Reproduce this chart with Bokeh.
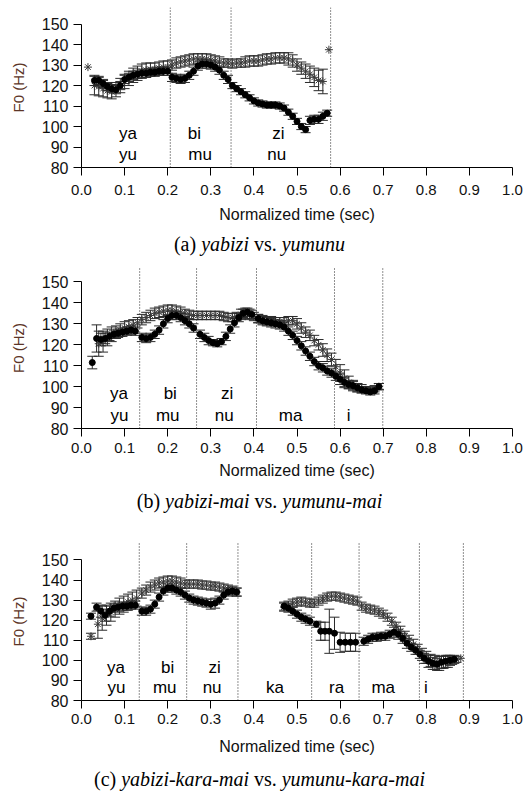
from bokeh.plotting import figure
from bokeh.models import Range1d, FixedTicker, PrintfTickFormatter, ColumnDataSource
from bokeh.layouts import column
from bokeh.embed import file_html
from bokeh.resources import INLINE
from bokeh.core.properties import value

# ---------------- data ----------------
x_ticks = [0.0, 0.1, 0.2, 0.3, 0.4, 0.5, 0.6, 0.7, 0.8, 0.9, 1.0]
y_ticks = [80, 90, 100, 110, 120, 130, 140, 150]
x_title = "Normalized time (sec)"
y_title = "F0 (Hz)"

# panel (a)  yabizi (open) vs yumunu (filled)
a_open_t = [0.015, 0.03, 0.04, 0.05, 0.06, 0.07, 0.08, 0.09, 0.10, 0.11,
            0.12, 0.13, 0.14, 0.15, 0.16, 0.17, 0.18, 0.19, 0.20, 0.21,
            0.22, 0.23, 0.24, 0.25, 0.26, 0.27, 0.28, 0.29, 0.30, 0.31,
            0.32, 0.33, 0.34, 0.35, 0.36, 0.37, 0.38, 0.39, 0.40, 0.41,
            0.42, 0.43, 0.44, 0.45, 0.46, 0.47, 0.48, 0.49, 0.50, 0.51,
            0.52, 0.53, 0.54, 0.55, 0.56, 0.574]
a_open_f0 = [129, 120, 119.5, 118.5, 117.5, 117, 118, 120, 122, 123.5,
             125, 126, 127, 127.5, 128, 128, 128.5, 129, 129, 130,
             131, 131.5, 132, 132.5, 133, 133, 133, 133, 132.5, 132,
             131.5, 131, 131, 130.5, 131, 131, 131.5, 132, 132, 132,
             132.5, 133, 133, 133.5, 133.5, 133.5, 133, 132, 130, 128.5,
             127, 125.5, 124, 122.5, 122, 137.5]
a_open_err = [0, 4.5, 4.5, 4, 3.5, 3.5, 3.5, 3.5, 3.5, 3.5,
              3.5, 3.5, 3.5, 3.5, 3, 3, 3, 3, 3, 2.5,
              2.5, 2.5, 2.5, 2.5, 2.5, 2.5, 2.5, 2.5, 2.5, 2.5,
              2.5, 2, 2, 2, 2, 2, 2.5, 2.5, 2.5, 2.5,
              2.5, 2.5, 2.5, 2.5, 2.5, 2.5, 3, 3, 3, 3,
              3.5, 4, 4.5, 5, 6, 0]
a_fill_t = [0.03, 0.04, 0.05, 0.06, 0.07, 0.08, 0.09, 0.10, 0.11, 0.12,
            0.13, 0.14, 0.15, 0.16, 0.17, 0.18, 0.19, 0.20, 0.21, 0.22,
            0.23, 0.24, 0.25, 0.26, 0.27, 0.28, 0.29, 0.30, 0.31, 0.32,
            0.33, 0.34, 0.35, 0.36, 0.37, 0.38, 0.39, 0.40, 0.41, 0.42,
            0.43, 0.44, 0.45, 0.46, 0.47, 0.48, 0.49, 0.50, 0.51, 0.52,
            0.53, 0.54, 0.55, 0.56, 0.57]
a_fill_f0 = [122.5, 122.5, 121, 119.5, 118.5, 118, 120, 123, 124, 125,
             125.5, 126, 126, 126.5, 126.5, 127, 127, 127, 124, 123.5,
             123, 123.5, 125, 127, 129.5, 130.5, 130.5, 130, 129, 127.5,
             125, 123, 120, 118.5, 117, 115.5, 114, 112.5, 111.5, 111,
             110.5, 110.5, 110.5, 110, 109, 107, 105, 102.5, 100, 98.5,
             103, 103.5, 103.5, 105, 106.5]
a_fill_err = [2.5, 2, 2, 2, 2, 2, 2, 2, 2, 2,
              2, 2, 2, 2, 2, 2, 2, 2, 2, 2,
              2, 2, 2, 2, 2, 2, 2, 2, 2, 2,
              2, 2, 1.5, 1.5, 1.5, 1.5, 1.5, 1.5, 1.5, 1.5,
              1.5, 1.5, 1.5, 1.5, 1.5, 1.5, 1.5, 1.5, 1.5, 1.5,
              2, 2, 2, 2, 1.5]
a_bounds = [0.206, 0.347, 0.578]
a_upper = ["ya", "bi", "zi"]
a_upper_t = [0.108, 0.262, 0.457]
a_lower = ["yu", "mu", "nu"]
a_lower_t = [0.108, 0.275, 0.453]
a_caption = [("(a) ", False), ("yabizi", True), (" vs. ", False), ("yumunu", True)]

# panel (b)  yabizi-mai (open) vs yumunu-mai (filled)
b_open_t = [0.04, 0.05, 0.06, 0.07, 0.08, 0.09, 0.10, 0.11, 0.12, 0.13,
            0.14, 0.15, 0.16, 0.17, 0.18, 0.19, 0.20, 0.21, 0.22, 0.23,
            0.24, 0.25, 0.26, 0.27, 0.28, 0.29, 0.30, 0.31, 0.32, 0.33,
            0.34, 0.35, 0.36, 0.37, 0.38, 0.39, 0.40, 0.41, 0.42, 0.43,
            0.44, 0.45, 0.46, 0.47, 0.48, 0.49, 0.50, 0.51, 0.52, 0.53,
            0.54, 0.55, 0.56, 0.57, 0.58, 0.59, 0.60, 0.61, 0.62, 0.63,
            0.64, 0.65, 0.66, 0.67, 0.68, 0.69]
b_open_f0 = [120.5, 121.5, 123.5, 125, 126, 127, 128, 128.5, 129.5, 130.5,
             132, 133, 134, 135, 135.5, 136, 136.5, 136.5, 136, 135.5,
             135, 134.5, 134, 134, 134, 134, 134, 134, 134, 133.5,
             133, 133, 133.5, 134.5, 135, 134.5, 133.5, 132.5, 132, 131.5,
             131.5, 131, 131, 131, 131.5, 131.5, 130, 128, 126, 124.5,
             122, 120, 117.5, 115, 113, 109.5, 106.5, 104, 102, 100.5,
             99.5, 99, 98.5, 98.5, 99, 100]
b_open_err = [6, 5, 4, 3.5, 3, 3, 3, 3, 2.5, 2.5,
              2.5, 2.5, 2.5, 2.5, 2.5, 2.5, 2.5, 2.5, 2.5, 2.5,
              2, 2, 2, 2, 2, 2, 2, 2, 2, 2,
              2, 2, 2, 2.5, 2.5, 2.5, 2, 2, 2, 2,
              2, 2, 2, 2, 2, 2, 2.5, 2.5, 2.5, 2.5,
              2.5, 2.5, 3, 3, 3, 3.5, 4, 4, 3, 2.5,
              2, 2, 1.5, 1.5, 1.5, 1.5]
b_fill_t = [0.025, 0.035, 0.045, 0.055, 0.065, 0.075, 0.085, 0.095, 0.105, 0.115,
            0.125, 0.14, 0.15, 0.16, 0.17, 0.18, 0.19, 0.20, 0.21, 0.22,
            0.23, 0.24, 0.25, 0.26, 0.275, 0.285, 0.295, 0.305, 0.315, 0.325,
            0.335, 0.345, 0.355, 0.365, 0.375, 0.385, 0.395, 0.41, 0.42, 0.43,
            0.44, 0.45, 0.46, 0.47, 0.48, 0.49, 0.50, 0.51, 0.52, 0.53,
            0.54, 0.55, 0.56, 0.57, 0.58, 0.59, 0.60, 0.61, 0.62, 0.63,
            0.64, 0.65, 0.66, 0.67, 0.68, 0.69]
b_fill_f0 = [111.5, 123, 122.5, 123, 124, 125, 125.5, 126, 126.5, 127,
             126.5, 123.5, 123, 123.5, 125, 127, 130, 132.5, 134, 134,
             133, 131.5, 130, 128, 125, 123.5, 122, 121, 120.5, 121.5,
             124, 127.5, 130.5, 133, 135, 135.5, 134.5, 132.5, 131.5, 131,
             130.5, 130, 129.5, 128.5, 126.5, 124.5, 122, 119.5, 117, 114.5,
             112, 110, 109, 107.5, 106.5, 105, 103.5, 102, 101, 100.5,
             99.5, 98.5, 98, 97.5, 98, 100]
b_fill_err = [3, 6.5, 3, 2.5, 2, 2, 2, 2, 2, 2,
              2, 2, 2, 2, 2, 2, 2, 2, 2, 2,
              2, 2, 2, 2, 2, 2, 2, 1.5, 1.5, 1.5,
              2, 2, 2, 2, 2, 2, 2, 2, 2, 2,
              2, 2, 2, 2, 2, 2, 2, 2, 2, 2,
              2, 2, 2, 2, 2, 2, 2.5, 2.5, 2, 2,
              2, 1.5, 1.5, 1.5, 1.5, 1.5]
b_bounds = [0.135, 0.267, 0.406, 0.587, 0.699]
b_upper = ["ya", "bi", "zi"]
b_upper_t = [0.087, 0.206, 0.338]
b_lower = ["yu", "mu", "nu", "ma", "i"]
b_lower_t = [0.088, 0.200, 0.331, 0.485, 0.620]
b_caption = [("(b) ", False), ("yabizi-mai", True), (" vs. ", False), ("yumunu-mai", True)]

# panel (c)  yabizi-kara-mai (open) vs yumunu-kara-mai (filled)
c_open_t = [0.022, 0.038, 0.048, 0.058, 0.068, 0.078, 0.088, 0.098, 0.108, 0.118,
            0.128, 0.14, 0.15, 0.16, 0.17, 0.18, 0.19, 0.20, 0.21, 0.22,
            0.23, 0.24, 0.25, 0.26, 0.27, 0.28, 0.29, 0.30, 0.31, 0.32,
            0.33, 0.34, 0.35, 0.36, 0.47, 0.48, 0.49, 0.50, 0.51, 0.52,
            0.53, 0.54, 0.55, 0.56, 0.57, 0.58, 0.59, 0.60, 0.61, 0.62,
            0.63, 0.64, 0.65, 0.66, 0.67, 0.68, 0.69, 0.70, 0.71, 0.72,
            0.73, 0.74, 0.75, 0.76, 0.77, 0.78, 0.79, 0.80, 0.81, 0.82,
            0.83, 0.84, 0.85, 0.86, 0.87, 0.88]
c_open_f0 = [112, 118, 121, 122.5, 124, 125.5, 127, 128, 129, 130,
             131, 133.5, 135, 136.5, 137.5, 138.5, 139, 139.5, 139.5, 139,
             138.5, 138, 138, 138, 138, 137.5, 137.5, 137, 137, 136.5,
             136, 135.5, 135, 134, 126.5, 127.5, 128.5, 129, 129.5, 129,
             128.5, 128.5, 129.5, 130.5, 131.5, 132, 132, 131.5, 131, 130.5,
             130, 129.5, 127, 126, 125.5, 125, 124, 123, 121.5, 119.5,
             117, 114.5, 112, 110, 108, 105.5, 103, 101.5, 100, 99,
             98.5, 99, 99.5, 100, 100.5, 101]
c_open_err = [1.5, 7, 6, 5, 4.5, 4, 4, 4, 4, 4,
              4, 2.5, 2.5, 2.5, 2.5, 2.5, 2.5, 2.5, 2.5, 2.5,
              2.5, 2, 2, 2, 2, 2, 2, 2, 2, 2,
              2, 2, 2, 2, 2, 2, 2, 2, 2, 2,
              2, 2, 2, 2, 2, 2, 2, 2, 2, 2,
              2, 2, 2, 2, 2, 2, 2, 2, 2, 2,
              2, 2.5, 2.5, 2.5, 2.5, 2.5, 3, 3, 3, 3.5,
              3.5, 3, 3, 2, 1.5, 0]
c_fill_t = [0.022, 0.035, 0.045, 0.055, 0.065, 0.075, 0.085, 0.095, 0.105, 0.115,
            0.125, 0.14, 0.15, 0.16, 0.17, 0.18, 0.19, 0.20, 0.21, 0.22,
            0.23, 0.24, 0.25, 0.26, 0.27, 0.28, 0.29, 0.30, 0.31, 0.32,
            0.33, 0.34, 0.35, 0.36, 0.47, 0.48, 0.49, 0.50, 0.51, 0.52,
            0.53, 0.545, 0.555, 0.565, 0.575, 0.587, 0.600, 0.612, 0.624, 0.636,
            0.655, 0.665, 0.675, 0.685, 0.695, 0.705, 0.715, 0.725, 0.735, 0.745,
            0.755, 0.765, 0.775, 0.785, 0.795, 0.805, 0.815, 0.825, 0.835, 0.845,
            0.855, 0.865]
c_fill_f0 = [122, 126.5, 124.5, 122.5, 124.5, 126, 126.5, 127, 127, 127.5,
             127.5, 124.5, 124.5, 125.5, 128, 131.5, 134.5, 136, 136, 135,
             134, 132.5, 131, 130, 129.5, 129, 128.5, 128, 128.5, 130,
             132.5, 134, 134.5, 134, 127, 126, 124.5, 123, 121.5, 120.5,
             119.5, 118, 114.5, 114.5, 114.5, 113.5, 109, 109, 109, 109,
             109.5, 110.5, 111.5, 111.5, 112, 112, 113, 114, 113, 111,
             108.5, 106.5, 105, 103, 101, 99.5, 98.5, 98, 99, 99.5,
             100, 100.5]
c_fill_err = [1.5, 2, 3, 3, 2.5, 2, 2, 2, 2, 2,
              2, 2, 2, 2, 2, 2, 2, 2, 2, 2,
              2, 2, 2, 2, 2, 2, 2, 2.5, 2.5, 2,
              2, 2, 2, 2, 2, 2, 2, 2, 2, 2,
              2, 1.5, 4.5, 4.5, 11, 8, 5, 4.5, 4.5, 4.5,
              2, 2, 2, 2, 2, 2, 2, 2.5, 2.5, 2.5,
              2.5, 2, 2, 2, 2.5, 3, 3, 3, 3, 3,
              2.5, 2]
c_bounds = [0.134, 0.244, 0.363, 0.534, 0.644, 0.784, 0.886]
c_upper = ["ya", "bi", "zi"]
c_upper_t = [0.080, 0.200, 0.309]
c_lower = ["yu", "mu", "nu", "ka", "ra", "ma", "i"]
c_lower_t = [0.081, 0.193, 0.303, 0.449, 0.592, 0.700, 0.799]
c_caption = [("(c) ", False), ("yabizi-kara-mai", True), (" vs. ", False), ("yumunu-kara-mai", True)]

# ---------------- styling ----------------
W = 523
LEFT = 81
FRAME_W = 431
RIGHT = W - LEFT - FRAME_W
SANS = "Liberation Sans"
SERIF = "Liberation Serif"
UPPER_ROW = 96.5
LOWER_ROW = 86.3
BAR_COLOR = "#2a2a2a"
CAP_CENTER = 259

ROMAN_W = {'(': 333, ')': 333, 'a': 444, 'b': 500, 'c': 444, ' ': 250,
           'v': 500, 's': 389, '.': 250}
ITALIC_W = {'y': 444, 'a': 500, 'b': 500, 'i': 278, 'z': 389, '-': 333,
            'k': 444, 'r': 389, 'm': 722, 'u': 500, 'n': 500, ' ': 250}
CAP_SIZE = 20


def text_w(s, italic):
    tbl = ITALIC_W if italic else ROMAN_W
    return sum(tbl.get(ch, 500) for ch in s) / 1000.0 * CAP_SIZE


def add_series(p, t, f0, err, kind):
    idx = [i for i, e in enumerate(err) if e > 0]
    src = ColumnDataSource(dict(
        t=[t[i] for i in idx],
        lo=[f0[i] - err[i] for i in idx],
        hi=[f0[i] + err[i] for i in idx]))
    p.segment(x0="t", y0="lo", x1="t", y1="hi", source=src,
              line_color=BAR_COLOR, line_width=1)
    for k in ("lo", "hi"):
        p.scatter(x="t", y=k, source=src, marker="dash", size=10,
                  line_color=BAR_COLOR, line_width=1)
    if kind == "open":
        p.scatter(x=t, y=f0, marker="asterisk", size=8,
                  line_color="#3a3a3a", line_width=1)
    else:
        p.scatter(x=t, y=f0, marker="circle", size=6,
                  fill_color="black", line_color="black")


def make_panel(open_s, fill_s, bounds, upper, upper_t, lower, lower_t,
               y_top, top, frame_h, bottom, tick_sd, title_sd):
    h = top + frame_h + bottom
    p = figure(width=W, height=h, x_range=Range1d(0, 1.0),
               y_range=Range1d(80, y_top), output_backend="svg",
               toolbar_location=None, min_border_left=LEFT,
               min_border_right=RIGHT, min_border_top=top,
               min_border_bottom=bottom)
    p.grid.visible = False
    p.outline_line_color = None
    p.background_fill_color = "white"
    p.border_fill_color = "white"

    xa = p.xaxis[0]
    xa.ticker = FixedTicker(ticks=x_ticks)
    xa.formatter = PrintfTickFormatter(format="%.1f")
    xa.bounds = (0, 1.0)
    xa.major_tick_out = 8
    xa.major_tick_in = 0
    xa.minor_tick_out = 0
    xa.minor_tick_in = 0
    xa.major_label_standoff = tick_sd
    xa.major_label_text_font = SANS
    xa.major_label_text_font_size = "15px"
    xa.major_label_text_color = "#111111"
    xa.axis_label = x_title
    xa.axis_label_text_font = SANS
    xa.axis_label_text_font_size = "16px"
    xa.axis_label_text_font_style = "normal"
    xa.axis_label_text_color = "#111111"
    xa.axis_label_standoff = title_sd
    xa.axis_line_color = "black"
    xa.major_tick_line_color = "black"

    ya = p.yaxis[0]
    ya.ticker = FixedTicker(ticks=y_ticks)
    ya.bounds = (80, 150)
    ya.major_tick_out = 8
    ya.major_tick_in = 0
    ya.minor_tick_out = 0
    ya.minor_tick_in = 0
    ya.major_label_standoff = 5
    ya.major_label_text_font = SANS
    ya.major_label_text_font_size = "16px"
    ya.major_label_text_color = "#111111"
    ya.axis_label = y_title
    ya.axis_label_text_font = SANS
    ya.axis_label_text_font_size = "15px"
    ya.axis_label_text_font_style = "normal"
    ya.axis_label_text_color = "#5c3527"
    ya.axis_label_standoff = 12
    ya.axis_line_color = "black"
    ya.major_tick_line_color = "black"

    p.segment(x0=bounds, y0=[80] * len(bounds), x1=bounds,
              y1=[y_top] * len(bounds), line_color="#222222",
              line_width=1, line_dash="1 2")

    add_series(p, *open_s, "open")
    add_series(p, *fill_s, "fill")

    p.text(x=upper_t, y=[UPPER_ROW] * len(upper), text=upper,
           text_font=value(SANS), text_font_size="17px", text_color="black",
           text_align="center", text_baseline="middle")
    p.text(x=lower_t, y=[LOWER_ROW] * len(lower), text=lower,
           text_font=value(SANS), text_font_size="17px", text_color="black",
           text_align="center", text_baseline="middle")
    return p


def make_caption(parts, h, base_y):
    # frame spans the same pixels as the panel frames; x data = page pixels
    p = figure(width=W, height=h, x_range=Range1d(LEFT, LEFT + FRAME_W),
               y_range=Range1d(0, h), output_backend="svg",
               toolbar_location=None, min_border_left=LEFT,
               min_border_right=RIGHT, min_border_top=0, min_border_bottom=0,
               x_axis_location=None, y_axis_location=None)
    p.grid.visible = False
    p.outline_line_color = None
    p.background_fill_color = "white"
    p.border_fill_color = "white"
    total = sum(text_w(s, it) for s, it in parts)
    x = CAP_CENTER - total / 2.0
    for s, it in parts:
        lead = s[:len(s) - len(s.lstrip())]
        p.text(x=[x + text_w(lead, it)], y=[base_y], text=[s.strip()],
               text_font=value(SERIF), text_font_size="%dpx" % CAP_SIZE,
               text_font_style="italic" if it else "normal",
               text_color="black", text_align="left",
               text_baseline="alphabetic")
        x += text_w(s, it)
    return p


pa = make_panel((a_open_t, a_open_f0, a_open_err), (a_fill_t, a_fill_f0, a_fill_err),
                a_bounds, a_upper, a_upper_t, a_lower, a_lower_t,
                y_top=158.1, top=7, frame_h=160, bottom=59, tick_sd=9, title_sd=8)
ca = make_caption(a_caption, 36, 19)
pb = make_panel((b_open_t, b_open_f0, b_open_err), (b_fill_t, b_fill_f0, b_fill_err),
                b_bounds, b_upper, b_upper_t, b_lower, b_lower_t,
                y_top=156.9, top=5, frame_h=161, bottom=54, tick_sd=6, title_sd=6)
cb = make_caption(b_caption, 36, 18)
pc = make_panel((c_open_t, c_open_f0, c_open_err), (c_fill_t, c_fill_f0, c_fill_err),
                c_bounds, c_upper, c_upper_t, c_lower, c_lower_t,
                y_top=158.7, top=24, frame_h=163, bottom=52, tick_sd=5, title_sd=11)
cc = make_caption(c_caption, 34, 13)

layout = column(pa, ca, pb, cb, pc, cc, spacing=0)
open("out.html", "w").write(file_html(layout, INLINE))
